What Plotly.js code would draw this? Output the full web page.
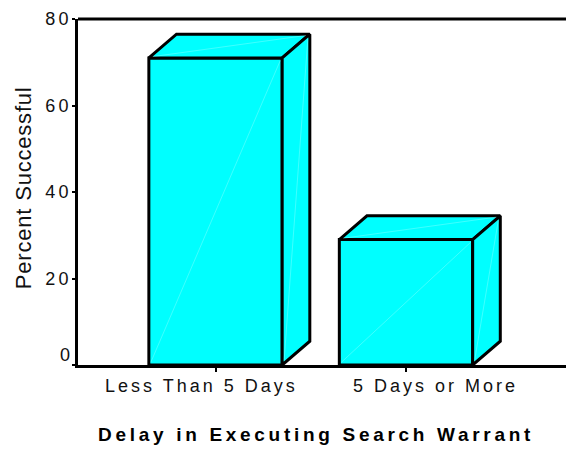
<!DOCTYPE html>
<html>
<head>
<meta charset="utf-8">
<script src="https://cdn.plot.ly/plotly-3.0.1.min.js"></script>
<style>
html,body{margin:0;padding:0;background:#fff;}
#chart{width:566px;height:449px;}
</style>
</head>
<body>
<div id="chart"></div>
<script>
// ---- data ----
const categories = ['Less Than 5 Days', '5 Days or More'];
const values = [71, 29];
const yTicks = [0, 20, 40, 60, 80];
const xTitle = 'Delay in Executing Search Warrant';
const yTitle = 'Percent Successful';

// ---- style / geometry ----
const FONT = 'Liberation Sans, Arial, Helvetica, sans-serif';
const CYAN = '#00FFFF';
const barW = 0.70;     // bar width in category units
const dx = 0.145;      // 3D depth, x (category units)
const dy = 5.5;        // 3D depth, y (data units)
const xPos = categories.map((c, i) => i);
const labelShift = [-16, 28];

const traces = [];
// front faces as bars
traces.push({
  type: 'bar', x: xPos, y: values, width: barW,
  marker: {color: CYAN, line: {color: '#000', width: 3}},
  hoverinfo: 'skip', showlegend: false
});
// top and side faces
values.forEach((v, i) => {
  const x0 = xPos[i] - barW / 2, x1 = xPos[i] + barW / 2;
  traces.push({
    type: 'scatter', mode: 'lines', fill: 'toself', fillcolor: CYAN,
    x: [x0, x0 + dx, x1 + dx, x1, x0],
    y: [v, v + dy, v + dy, v, v],
    line: {color: '#000', width: 3}, hoverinfo: 'skip', showlegend: false
  });
  traces.push({
    type: 'scatter', mode: 'lines', fill: 'toself', fillcolor: CYAN,
    x: [x1, x1 + dx, x1 + dx, x1, x1],
    y: [0, dy, v + dy, v, 0],
    line: {color: '#000', width: 3}, hoverinfo: 'skip', showlegend: false
  });
  // faint facet diagonals
  const e = 0.01;
  traces.push({
    type: 'scatter', mode: 'lines',
    x: [x0 + e, x1 - e, null, x0 + 0.02, x1 + dx - 0.02, null, x1 + 0.01, x1 + dx - 0.01],
    y: [0.6, v - 0.6, null, v + 0.3, v + dy - 0.3, null, 1, v + dy - 1],
    line: {color: 'rgba(230,255,255,0.55)', width: 0.5}, hoverinfo: 'skip', showlegend: false
  });
});

const sp = (t, s) => '<span style="letter-spacing:' + s + 'px">' + t + '</span>';
// spacing between characters only (no trailing space)
const spIn = (t, s) => t.length > 1 ? sp(t.slice(0, -1), s) + t.slice(-1) : t;

const annotations = [];
categories.forEach((c, i) => {
  annotations.push({
    text: spIn(c, 3), x: xPos[i], xref: 'x', xshift: labelShift[i],
    y: -0.062, yref: 'paper', xanchor: 'center', yanchor: 'middle', showarrow: false,
    font: {family: FONT, size: 18, color: '#111'}
  });
});
annotations.push({
  text: '<b>' + spIn(xTitle, 3.7) + '</b>', x: 0.485, xref: 'paper', y: -0.2, yref: 'paper',
  xanchor: 'center', yanchor: 'middle', showarrow: false,
  font: {family: FONT, size: 19, color: '#000'}
});
annotations.push({
  text: spIn(yTitle, 0.8), textangle: -90, x: -0.11, xref: 'paper', y: 0.512, yref: 'paper',
  xanchor: 'center', yanchor: 'middle', showarrow: false,
  font: {family: FONT, size: 22, color: '#111'}
});
annotations.push({
  text: String(yTicks[0]), x: 0, xref: 'paper', xanchor: 'right', xshift: -6,
  y: yTicks[0], yref: 'y', yanchor: 'middle', yshift: 10, showarrow: false,
  font: {family: FONT, size: 18, color: '#111'}
});

const layout = {
  width: 566, height: 449,
  margin: {l: 78, r: 0, t: 19, b: 84, pad: 0},
  paper_bgcolor: '#fff', plot_bgcolor: '#fff',
  showlegend: false,
  xaxis: {
    range: [-0.722, 1.84], tickvals: xPos, ticktext: xPos.map(() => ''),
    showline: true, linecolor: '#000', linewidth: 3, ticks: 'outside', ticklen: 4,
    tickwidth: 2, tickcolor: '#000', showgrid: false, zeroline: false, fixedrange: true
  },
  yaxis: {
    range: [0, 80], tickvals: yTicks,
    ticktext: yTicks.map((t, i) => i === 0 ? '' : spIn(String(t), 3)),
    showline: true, linecolor: '#000', linewidth: 3, ticks: 'outside', ticklen: 3,
    tickwidth: 2, tickcolor: '#000', showgrid: false, zeroline: false,
    tickfont: {family: FONT, size: 18, color: '#111'}, fixedrange: true
  },
  shapes: [{type: 'line', xref: 'paper', yref: 'paper', x0: 0, x1: 1, y0: 1, y1: 1,
            line: {color: '#000', width: 3}}],
  annotations: annotations
};

Plotly.newPlot('chart', traces, layout, {displayModeBar: false, staticPlot: true});
</script>
</body>
</html>
